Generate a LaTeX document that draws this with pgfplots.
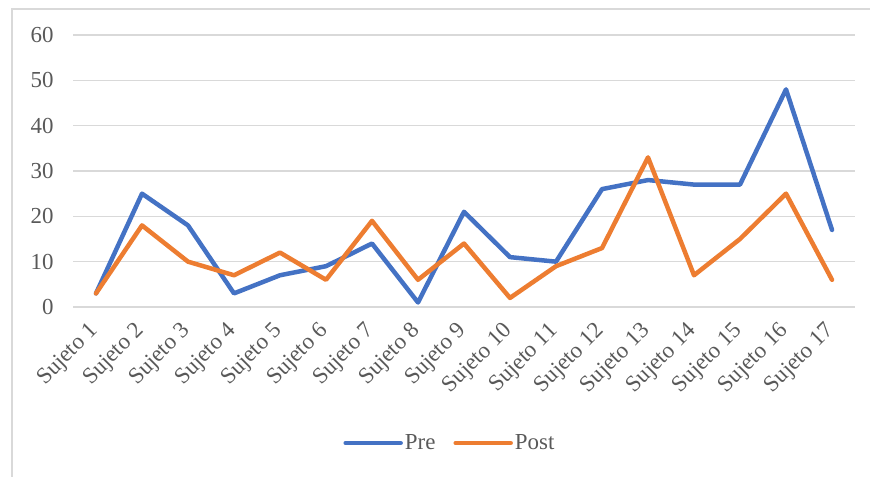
\documentclass[border=0pt]{standalone}
\usepackage{fontspec}
\setmainfont{Liberation Serif}
\usepackage{pgfplots}
\pgfplotsset{compat=1.18}
\definecolor{preblue}{HTML}{4472C4}
\definecolor{postorange}{HTML}{ED7D31}
\definecolor{gridgray}{HTML}{D9D9D9}
\definecolor{txtgray}{HTML}{595959}
\begin{document}
\begin{tikzpicture}[x=1bp,y=1bp]
\useasboundingbox (0,0) rectangle (870,477);
\draw[gridgray, line width=1.5bp] (12,0) -- (12,468) -- (870,468);
\begin{axis}[
  at={(73bp,170bp)}, anchor=south west, scale only axis,
  width=782bp, height=272bp,
  xmin=0.5, xmax=17.5, ymin=0, ymax=60,
  ytick={0,10,...,60}, xtick={1,...,17},
  xticklabels={Sujeto 1,Sujeto 2,Sujeto 3,Sujeto 4,Sujeto 5,Sujeto 6,Sujeto 7,Sujeto 8,Sujeto 9,Sujeto 10,Sujeto 11,Sujeto 12,Sujeto 13,Sujeto 14,Sujeto 15,Sujeto 16,Sujeto 17},
  axis line style={draw=none},
  major tick length=0pt,
  ymajorgrids,
  grid style={gridgray, line width=1.2bp},
  /pgf/number format/assume math mode=true,
  tick label style={font=\fontsize{23}{27}\selectfont, text=txtgray},
  yticklabel style={xshift=-16bp},
  xticklabel shift=20bp,
  xticklabel style={rotate=45, anchor=east, xshift=2bp},
  legend style={at={(0.482,-0.5)}, anchor=center, draw=none, fill=none,
    font=\fontsize{23}{27}\selectfont, text=txtgray, legend columns=2,
    /tikz/every even column/.append style={column sep=16bp}},
  legend image code/.code={\draw[#1, line width=4.5bp] (0bp,0bp) -- (55bp,0bp);},
  every axis plot/.append style={line width=4.5bp, line join=round, line cap=round},
]
\addplot[preblue, mark=none] coordinates {
(1,3) (2,25) (3,18) (4,3) (5,7) (6,9) (7,14) (8,1) (9,21) (10,11) (11,10) (12,26) (13,28) (14,27) (15,27) (16,48) (17,17)};
\addlegendentry{Pre}
\addplot[postorange, mark=none] coordinates {
(1,3) (2,18) (3,10) (4,7) (5,12) (6,6) (7,19) (8,6) (9,14) (10,2) (11,9) (12,13) (13,33) (14,7) (15,15) (16,25) (17,6)};
\addlegendentry{Post}
\end{axis}
\end{tikzpicture}
\end{document}
